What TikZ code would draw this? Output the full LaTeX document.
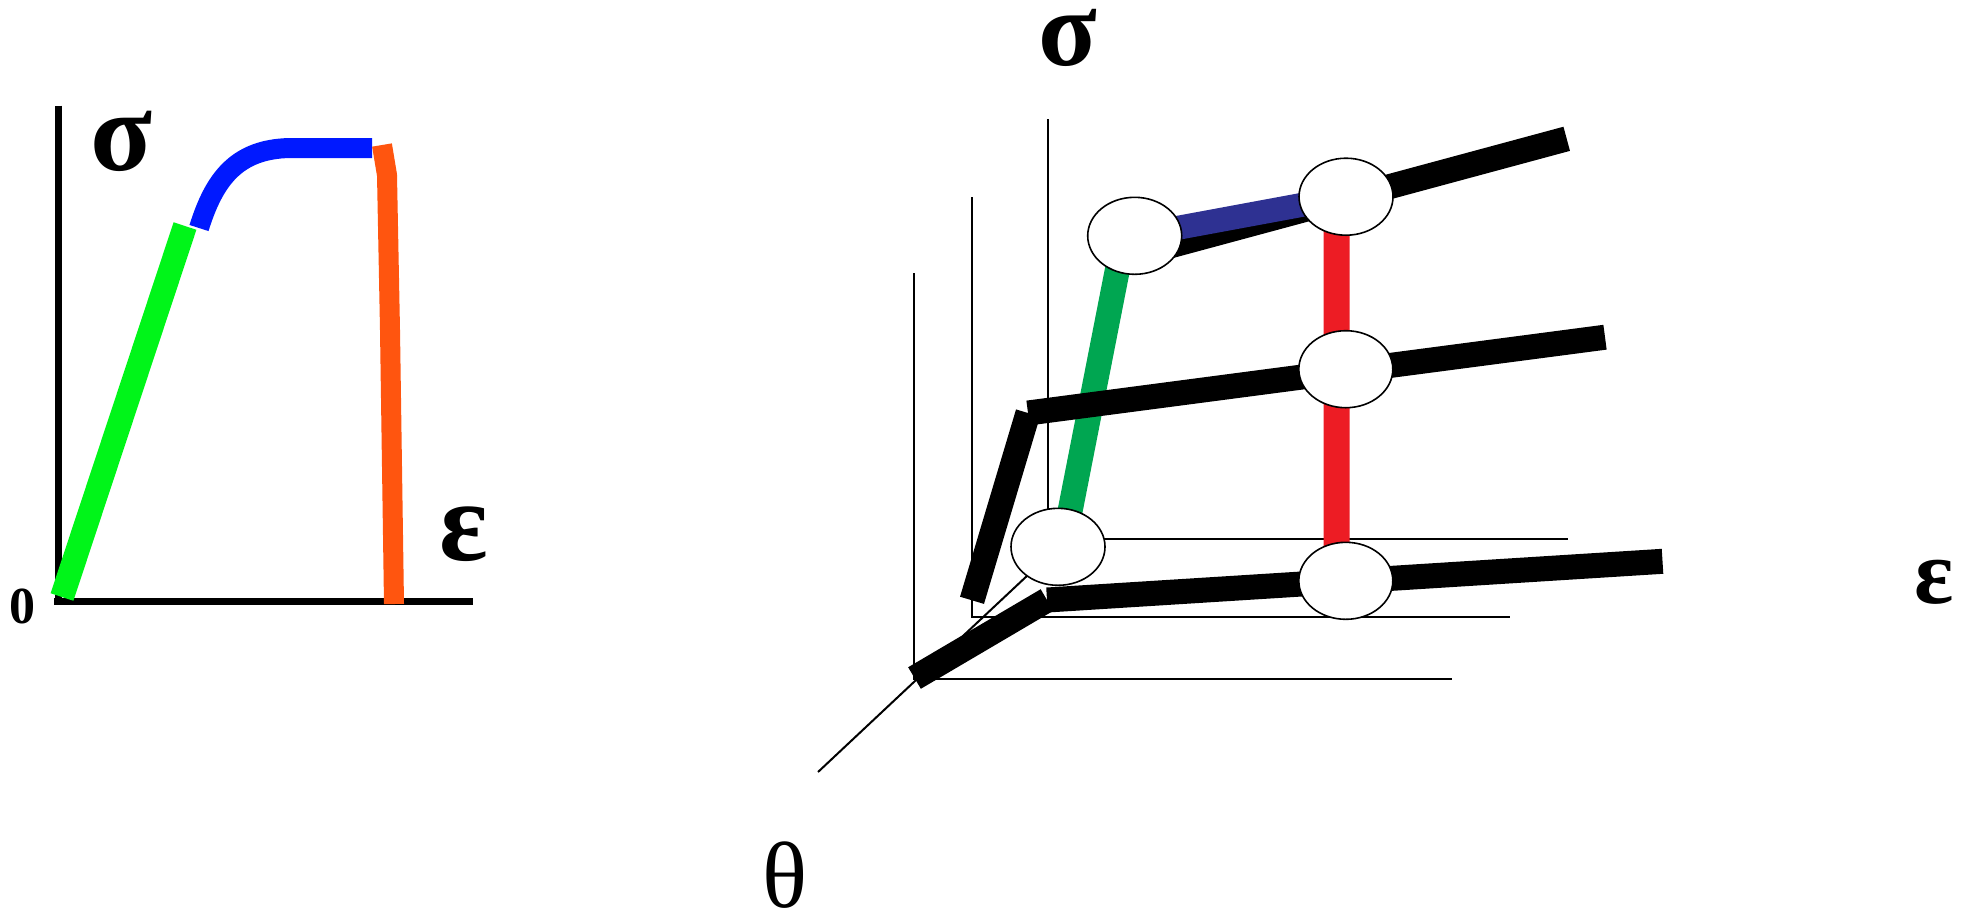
\documentclass[tikz,border=0pt]{standalone}
\usepackage{fontspec}
\setmainfont{Liberation Serif}
\usetikzlibrary{shapes.geometric}
\pgfdeclarelayer{thin}
\pgfdeclarelayer{bars}
\pgfsetlayers{thin,bars,main}
\definecolor{cGreenL}{RGB}{0,245,25}
\definecolor{cBlueL}{RGB}{0,25,255}
\definecolor{cOrange}{RGB}{255,85,15}
\definecolor{cNavy}{RGB}{46,49,146}
\definecolor{cGreenR}{RGB}{0,166,81}
\definecolor{cRed}{RGB}{237,28,36}
\begin{document}
\begin{tikzpicture}[x=0.5pt,y=-0.5pt,
  thinln/.style={line width=1pt},
  axisln/.style={line width=3.5pt},
  bar/.style={line width=12.5pt, line cap=butt, line join=miter},
  curve/.style={line width=#1, line cap=butt, line join=round},
  joint/.style={ellipse, draw, fill=white, line width=0.8pt, minimum width=47pt, minimum height=38.5pt, inner sep=0pt},
  lbl/.style={inner sep=0pt, anchor=center}]
\useasboundingbox (0,0) rectangle (1963,912);

% ---------- left chart ----------
\coordinate (yTop) at (58,105.6);
\coordinate (yBot) at (58,604.5);
\coordinate (xL) at (54.3,601.3);
\coordinate (xR) at (472.7,601.3);
\draw[axisln] (yTop) -- (yBot);
\draw[axisln] (xL) -- (xR);
\coordinate (g0) at (62,597);
\coordinate (g1) at (185,226);
\draw[curve=12pt, cGreenL] (g0) -- (g1);
\coordinate (b0) at (199,228);
\coordinate (b1) at (290,148);
\coordinate (b2) at (372,148);
\draw[curve=10pt, cBlueL] (b0) .. controls (214,180) and (236,149) .. (b1) -- (b2);
\coordinate (o0) at (382,145);
\coordinate (o1) at (387,175);
\coordinate (o2) at (390,330);
\coordinate (o3) at (394,604);
\draw[curve=10pt, cOrange, line join=miter] (o0) -- (o1) -- (o2) -- (o3);
\node[lbl, font=\fontsize{57}{57}\selectfont\bfseries] (sigL) at (122,141) {σ};
\node[lbl, font=\fontsize{57}{57}\selectfont\bfseries] (epsL) at (464,534) {ε};
\node[lbl, font=\fontsize{26}{26}\selectfont\bfseries] (zero) at (23,606) {0};

% ---------- right diagram ----------
\node[joint] (tl) at (1134.7,235.8) {};
\node[joint] (tr) at (1346,196.7) {};
\node[joint] (mr) at (1345.8,369.2) {};
\node[joint] (br) at (1345.8,580.8) {};
\node[joint] (bl) at (1058,546.8) {};

\coordinate (topL) at (1150,251.3);
\coordinate (topR) at (1566.7,138.8);
\coordinate (midL) at (1028,413);
\coordinate (midR) at (1605,337.2);
\coordinate (shortB) at (972,600.3);
\coordinate (diagL) at (914.5,678);
\coordinate (junc) at (1047,600);
\coordinate (botR) at (1662.5,561.3);
\coordinate (gTop) at (1124,236);
\coordinate (gBot) at (1063,547);

\begin{pgfonlayer}{thin}
\draw[thinln] (914,273) -- (914,679) -- (1452,679);
\draw[thinln] (971.7,197) -- (971.7,616.7) -- (1510,616.7);
\draw[thinln] (1048.3,119) -- (1048.3,539) -- (1567.7,539);
\coordinate (thEnd) at (818,772);
\draw[thinln] (thEnd) -- (bl.center);
\end{pgfonlayer}

\begin{pgfonlayer}{bars}
\draw[bar, cGreenR] (gTop) -- (gBot);
\draw[bar, cRed, line width=13pt] ([xshift=-4.65pt]tr.center) -- ([xshift=-4.65pt]br.center);
\draw[bar] (topL) -- (topR);
\draw[bar] (midL) -- (midR);
\draw[bar] (midL) -- (shortB);
\draw[bar] (diagL) -- (junc);
\draw[bar] (junc) -- (botR);
\draw[bar, cNavy, line width=12pt] (tl.center) -- (tr.center);
\end{pgfonlayer}

\node[lbl, font=\fontsize{54}{54}\selectfont\bfseries] (sigR) at (1068,38) {σ};
\node[lbl, font=\fontsize{47}{47}\selectfont] (theta) at (785.5,875) {θ};
\node[lbl, font=\fontsize{46}{46}\selectfont\bfseries] (epsR) at (1934,582) {ε};
\end{tikzpicture}
\end{document}
